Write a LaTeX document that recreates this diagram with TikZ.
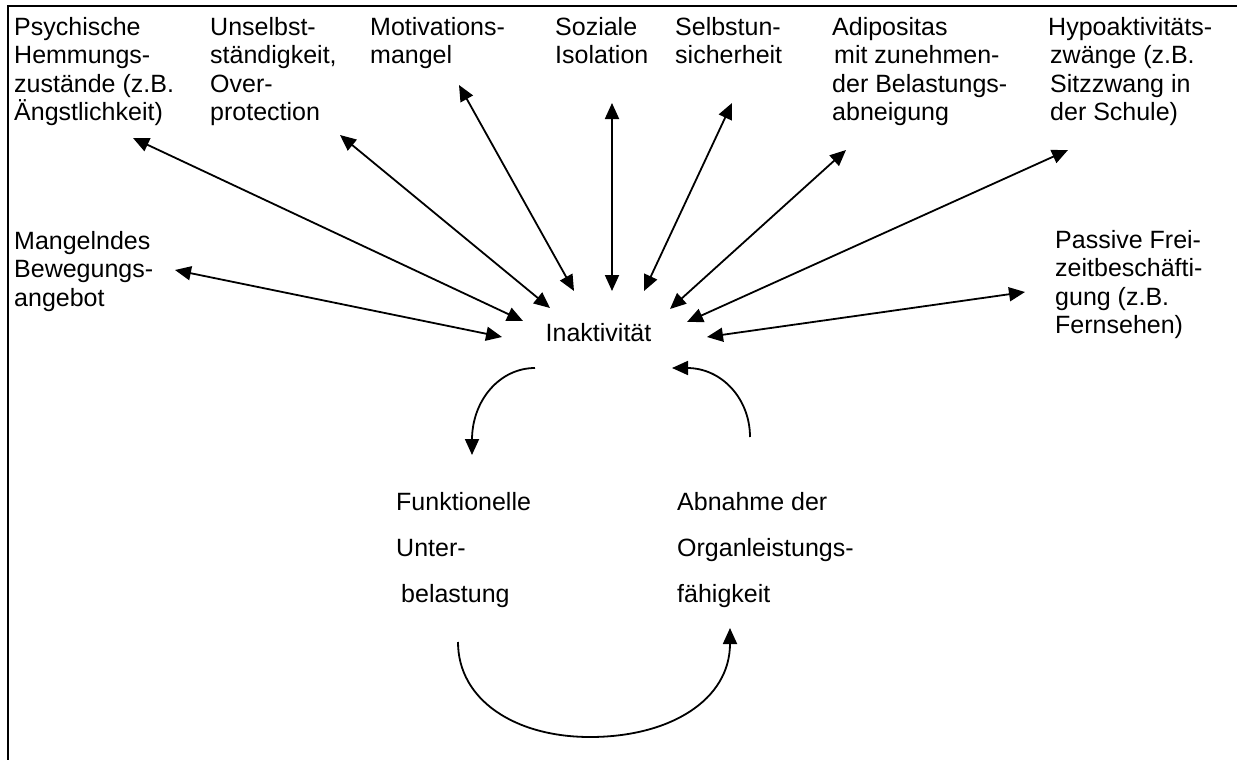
\documentclass[tikz,border=0pt]{standalone}
\usepackage{fontspec}
\setmainfont{Liberation Sans}
\usetikzlibrary{arrows.meta}
\newcommand{\fl}{\rule{0pt}{20pt}}
\begin{document}
\begin{tikzpicture}[x=1pt,y=-1pt,
  lbl/.style={anchor=north west, inner sep=0pt, align=left, font={\fontsize{25}{28.5}\selectfont}},
  lblw/.style={anchor=north west, inner sep=0pt, align=left, font={\fontsize{25}{46}\selectfont}},
  dbl/.style={line width=1.8pt, {Triangle[length=16pt,width=14pt]}-{Triangle[length=16pt,width=14pt]}},
  one/.style={line width=1.8pt, -{Triangle[length=16pt,width=14pt]}},
  frame/.style={line width=2pt}
]
\useasboundingbox (0,0) rectangle (1237,760);
\fill[white] (0,0) rectangle (1237,760);
\draw[frame] (7.5,760) -- (7.5,6) -- (1237,6);

% labels
\node[lbl] (psy) at (14,15) {\fl Psychische\\Hemmungs-\\zustände (z.B.\\Ängstlichkeit)};
\node[lbl] (uns) at (210,15) {\fl Unselbst-\\ständigkeit,\\Over-\\protection};
\node[lbl] (mot) at (370,15) {\fl Motivations-\\mangel};
\node[lbl] (soz) at (555,15) {\fl Soziale\\Isolation};
\node[lbl] (sel) at (675,15) {\fl Selbstun-\\sicherheit};
\node[lbl] (adi) at (832,15) {\fl Adipositas\\\hspace{2pt}mit zunehmen-\\der Belastungs-\\abneigung};
\node[lbl] (hyp) at (1048,15) {\fl Hypoaktivitäts-\\\hspace{2pt}zwänge (z.B.\\\hspace{2pt}Sitzzwang in\\\hspace{2pt}der Schule)};
\node[lbl] (man) at (14,229) {\fl Mangelndes\\Bewegungs-\\angebot};
\node[lbl] (pas) at (1055,228) {\fl Passive Frei-\\zeitbeschäfti-\\gung (z.B.\\Fernsehen)};
\node[lbl] (ina) at (545.5,321) {\fl Inaktivität};
\node[lblw] (fun) at (396,490) {\fl Funktionelle\\Unter-\\\hspace{5pt}belastung};
\node[lblw] (abn) at (677,490) {\fl Abnahme der\\Organleistungs-\\fähigkeit};

% arrow end points
\coordinate (psyA) at (133,138); \coordinate (psyB) at (523,321);
\coordinate (unsA) at (340,135); \coordinate (unsB) at (550,308);
\coordinate (motA) at (459,85);  \coordinate (motB) at (574,291);
\coordinate (sozA) at (612,103); \coordinate (sozB) at (612,291);
\coordinate (selA) at (732,103); \coordinate (selB) at (644,291);
\coordinate (adiA) at (846,150); \coordinate (adiB) at (670,309);
\coordinate (hypA) at (1068,150); \coordinate (hypB) at (687,322);
\coordinate (manA) at (175,270); \coordinate (manB) at (502,337);
\coordinate (pasA) at (1025,292); \coordinate (pasB) at (707,337);

\draw[dbl] (psyA) -- (psyB);
\draw[dbl] (unsA) -- (unsB);
\draw[dbl] (motA) -- (motB);
\draw[dbl] (sozA) -- (sozB);
\draw[dbl] (selA) -- (selB);
\draw[dbl] (adiA) -- (adiB);
\draw[dbl] (hypA) -- (hypB);
\draw[dbl] (manA) -- (manB);
\draw[dbl] (pasA) -- (pasB);

% cycle arrows
\coordinate (c1s) at (535,368); \coordinate (c1e) at (472,455);
\coordinate (c2s) at (750,437); \coordinate (c2e) at (672,368);
\coordinate (c3s) at (458,642); \coordinate (c3m) at (590,737); \coordinate (c3e) at (730,628);

\draw[one] (c1s) .. controls (500,368) and (472,400) .. (472,440) -- (c1e);
\draw[one] (c2s) .. controls (750,399) and (722,368) .. (687,368) -- (c2e);
\draw[one] (c3s) .. controls (458,700) and (515,737) .. (c3m)
                 .. controls (670,737) and (730,700) .. (c3e);
\end{tikzpicture}
\end{document}
